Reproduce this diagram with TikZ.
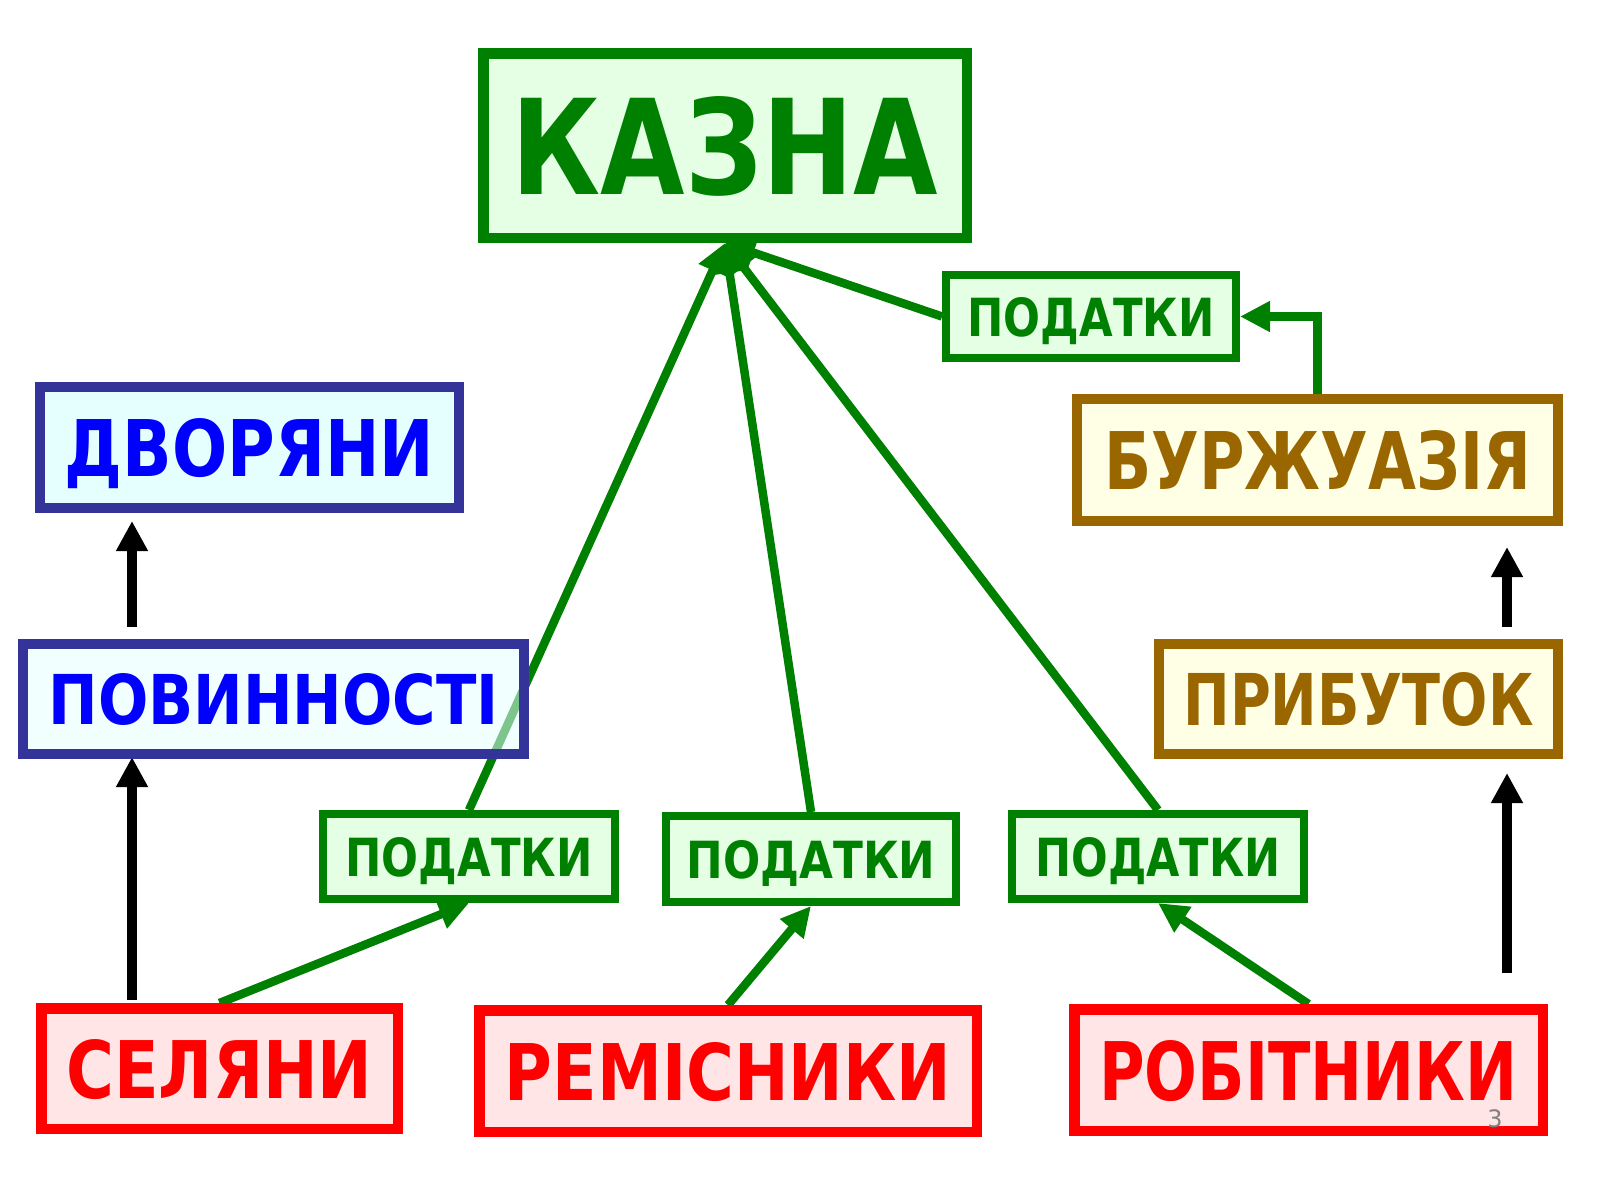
\documentclass[tikz,border=0pt]{standalone}
\usepackage{fontspec}
\setmainfont{DejaVu Sans}
\usetikzlibrary{arrows.meta,backgrounds,calc}
\definecolor{grn}{HTML}{008000}
\definecolor{grnfill}{HTML}{E5FFE5}
\definecolor{blu}{HTML}{0000FF}
\definecolor{bluborder}{HTML}{333399}
\definecolor{blufill}{HTML}{E5FFFF}
\definecolor{brn}{HTML}{996600}
\definecolor{brnfill}{HTML}{FFFFE5}
\definecolor{rd}{HTML}{FF0000}
\definecolor{rdfill}{HTML}{FFE5E5}
\newcommand{\fitlbl}[3]{\resizebox{#1pt}{#2pt}{\bfseries #3}}
\begin{document}
\begin{tikzpicture}[x=1pt,y=-1pt,
  box/.style={draw, inner sep=0pt, text depth=0pt, align=center},
  greenbox/.style={box, draw=grn, fill=grnfill, text=grn, line width=10.5pt},
  smallgreen/.style={box, draw=grn, fill=grnfill, text=grn, line width=8pt},
  bluebox/.style={box, draw=bluborder, fill=blufill, text=blu, line width=10pt},
  brownbox/.style={box, draw=brn, fill=brnfill, text=brn, line width=10pt},
  redbox/.style={box, draw=rd, fill=rdfill, text=rd, line width=10.5pt},
  garrow/.style={draw=grn, line width=8.5pt, -{Triangle[length=30pt,width=29pt]}},
  barrow/.style={draw=black, line width=10pt, -{Triangle[length=30pt,width=30pt]}},
]
\useasboundingbox (0,0) rectangle (1600,1200);

% main boxes
\node[greenbox, minimum width=483.5pt, minimum height=184.5pt] (kazna) at (725,145.5) {\fitlbl{427}{98}{КАЗНА}};
\node[smallgreen, minimum width=290pt, minimum height=83pt] (pod0) at (1091,316.5) {\fitlbl{247}{39}{ПОДАТКИ}};
\node[smallgreen, minimum width=292pt, minimum height=85pt] (pod1) at (469,856.5) {\fitlbl{247}{39}{ПОДАТКИ}};
\node[smallgreen, minimum width=290pt, minimum height=86pt] (pod2) at (811,859) {\fitlbl{249}{38}{ПОДАТКИ}};
\node[smallgreen, minimum width=292pt, minimum height=85pt] (pod3) at (1158,856.5) {\fitlbl{245}{39}{ПОДАТКИ}};

\node[bluebox, minimum width=419pt, minimum height=121pt] (dvor) at (249.5,447.5) {\fitlbl{369}{58}{ДВОРЯНИ}};
\node[bluebox, minimum width=501pt, minimum height=110pt, fill opacity=0.55, text opacity=1] (povyn) at (273.5,699) {\fitlbl{450}{51}{ПОВИННОСТІ}};

\node[brownbox, minimum width=481pt, minimum height=122pt] (burzh) at (1317.5,460) {\fitlbl{427}{59}{БУРЖУАЗІЯ}};
\node[brownbox, minimum width=399pt, minimum height=110pt] (prybut) at (1358.5,699) {\fitlbl{350}{53}{ПРИБУТОК}};

\node[redbox, minimum width=356.5pt, minimum height=120.5pt] (sel) at (219.5,1068.5) {\fitlbl{306}{59}{СЕЛЯНИ}};
\node[redbox, minimum width=497.5pt, minimum height=121.5pt] (rem) at (728,1071) {\fitlbl{446}{58}{РЕМІСНИКИ}};
\node[redbox, minimum width=468.5pt, minimum height=121.5pt] (rob) at (1308.5,1070) {\fitlbl{418}{60}{РОБІТНИКИ}};

\node[text=gray, inner sep=0pt, font=\fontsize{24}{24}\selectfont] (num) at (1495,1119) {3};

% connectors
\coordinate (b1) at (132,627);
\coordinate (b2) at (132,1000);
\coordinate (b3) at (1507,627);
\coordinate (b4) at (1507,973);

\begin{scope}[on background layer]
  \draw[garrow] (pod1.north) -- (kazna.south);
  \draw[garrow] (pod2.north) -- (kazna.south);
  \draw[garrow] (pod3.north) -- (kazna.south);
  \draw[garrow] (pod0.west) -- (kazna.south);
  \draw[garrow] (sel.north) -- (pod1.south);
  \draw[garrow] (rem.north) -- (pod2.south);
  \draw[garrow] (rob.north) -- (pod3.south);
  \draw[garrow] (burzh.north) |- (pod0.east);
  \draw[barrow, shorten >=8pt] (b1) -- (b1 |- dvor.south);
  \draw[barrow, shorten >=-2pt] (b2) -- (b2 |- povyn.south);
  \draw[barrow, shorten >=21pt] (b3) -- (b3 |- burzh.south);
  \draw[barrow, shorten >=14pt] (b4) -- (b4 |- prybut.south);
\end{scope}
\end{tikzpicture}
\end{document}
